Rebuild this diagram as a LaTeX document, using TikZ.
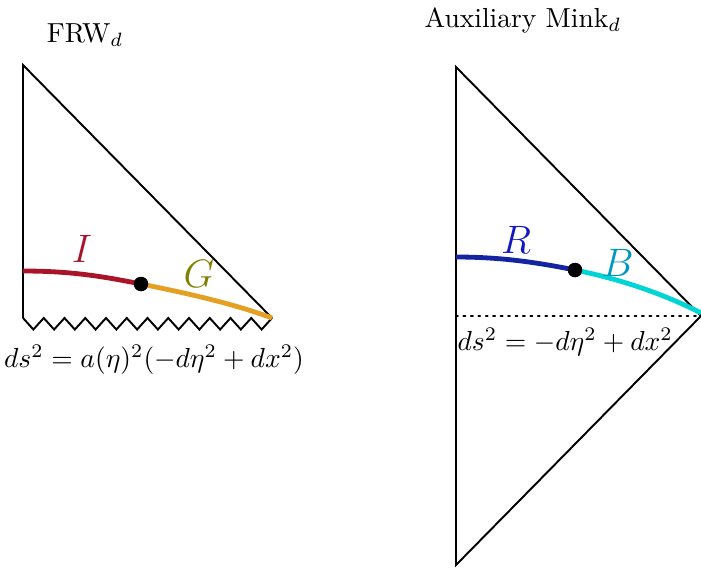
\documentclass[tikz,border=0pt]{standalone}
\usepackage{amsmath}
\begin{document}
\begin{tikzpicture}[x=0.363pt,y=-0.363pt,
  edge/.style={line width=0.7pt,black},
  curveline/.style={line width=1.75pt},
  lbl/.style={inner sep=0pt,font=\Large},
  dotpt/.style={circle,fill=black,inner sep=0pt,minimum size=5.2pt}]
\definecolor{cI}{RGB}{170,20,40}
\definecolor{cG}{RGB}{228,160,35}
\definecolor{cGl}{RGB}{128,128,0}
\definecolor{cR}{RGB}{20,35,160}
\definecolor{cRl}{RGB}{20,25,190}
\definecolor{cB}{RGB}{0,212,212}
\definecolor{cBl}{RGB}{0,150,190}
\useasboundingbox (0,0) rectangle (701,567);
% left diagram
\coordinate (Ltop) at (23,65);
\coordinate (Lbl) at (23,318);
\coordinate (Lbr) at (272,318);
\coordinate (Lstart) at (23,271);
\node[dotpt] (Ldot) at (141,284) {};
\draw[edge] (Lbl) -- (Ltop) -- (Lbr);
\draw[edge] (Lbl) \foreach \k in {0,...,11} { -- ({23+10.375+20.75*\k},329.5) -- ({23+20.75*(\k+1)},318) };
\draw[curveline,cI] (Lstart) .. controls (70,271) and (101,276) .. (Ldot.center);
\draw[curveline,cG] (Ldot.center) .. controls (181,292) and (232,303) .. (Lbr);
\node[dotpt] at (Ldot) {};
\node[lbl,text=cI] (labI) at (82,249) {$I$};
\node[lbl,text=cGl] (labG) at (199,274) {$G$};
\node (frw) at (85,35) {FRW$_d$};
\node (mL) at (154,360) {$ds^2=a(\eta)^2(-d\eta^2+dx^2)$};
% right diagram
\coordinate (Rtop) at (456,67);
\coordinate (Rbot) at (456,565);
\coordinate (Rright) at (701,316);
\coordinate (Rstart) at (456,257);
\node[dotpt] (Rdot) at (575,270) {};
\draw[edge] (Rbot) -- (Rtop) -- (Rright) -- cycle;
\draw[edge,dotted,line cap=round] (Rbot |- Rright) -- (Rright);
\draw[curveline,cR] (Rstart) .. controls (500,257) and (535,262) .. (Rdot.center);
\draw[curveline,cB] (Rdot.center) .. controls (615,278) and (660,292) .. (701,313);
\node[dotpt] at (Rdot) {};
\node[lbl,text=cRl] (labR) at (516,240) {$R$};
\node[lbl,text=cBl] (labB) at (618,263) {$B$};
\node (mink) at (523,20) {Auxiliary Mink$_d$};
\node[anchor=west,inner sep=0pt] (mR) at (457,342) {$ds^2=-d\eta^2+dx^2$};
\end{tikzpicture}
\end{document}
